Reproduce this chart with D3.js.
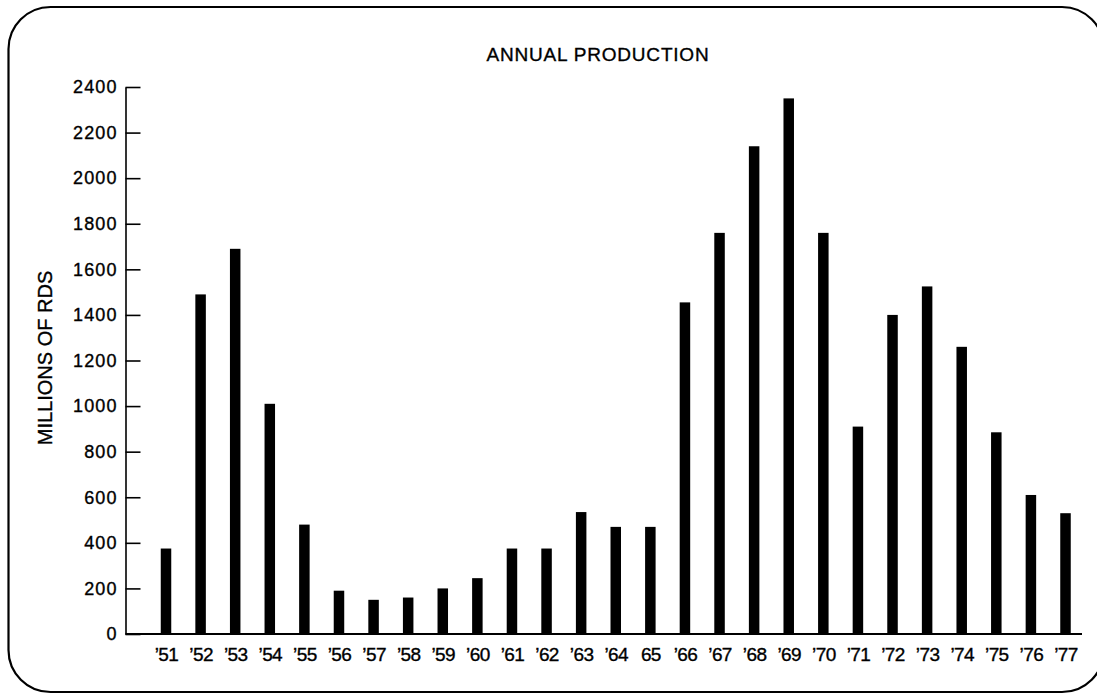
<!DOCTYPE html>
<html>
<head>
<meta charset="utf-8">
<script src="https://cdn.jsdelivr.net/npm/d3@7"></script>
<style>
  html, body { margin: 0; padding: 0; background: #fff; }
  svg { display: block; }
  text { font-family: "Liberation Sans", Arial, Helvetica, sans-serif; fill: #000; stroke: #000; stroke-width: 0.35px; }
</style>
</head>
<body>
<svg id="chart" width="1097" height="696"></svg>
<script>
// ---- data ----
const years = ["\u201951","\u201952","\u201953","\u201954","\u201955","\u201956","\u201957","\u201958","\u201959",
               "\u201960","\u201961","\u201962","\u201963","\u201964","65","\u201966","\u201967","\u201968",
               "\u201969","\u201970","\u201971","\u201972","\u201973","\u201974","\u201975","\u201976","\u201977"];
const production = [375, 1490, 1690, 1010, 480, 190, 150, 160, 200, 245, 375, 375, 535, 470, 470,
                    1455, 1760, 2140, 2350, 1760, 910, 1400, 1525, 1260, 885, 610, 530];
const yTicks = [0, 200, 400, 600, 800, 1000, 1200, 1400, 1600, 1800, 2000, 2200, 2400];
const title = "ANNUAL PRODUCTION";
const yLabel = "MILLIONS OF RDS";

// ---- layout ----
const svg = d3.select("#chart");
const axisX = 125.5, axisRight = 1082;
const x = d3.scalePoint().domain(years).range([166, 1065.5]);
const y = d3.scaleLinear().domain([0, 2400]).range([634, 87]);
const barW = 10.5;

// rounded frame
const fx0 = 8.5, fy0 = 7, fx1 = 1104, fy1 = 692, r = 42;
svg.append("path")
  .attr("d", `M${fx0 + r},${fy0} L${fx1 - r},${fy0} A${r},${r} 0 0 1 ${fx1},${fy0 + r} L${fx1},${fy1 - r} A${r},${r} 0 0 1 ${fx1 - r},${fy1} L${fx0 + r},${fy1} A${r},${r} 0 0 1 ${fx0},${fy1 - r} L${fx0},${fy0 + r} A${r},${r} 0 0 1 ${fx0 + r},${fy0} Z`)
  .attr("fill", "none").attr("stroke", "#000").attr("stroke-width", 2.2);

// title
svg.append("text")
  .attr("x", 598).attr("y", 60.5)
  .attr("text-anchor", "middle")
  .style("font-size", "19px").style("letter-spacing", "0.8px")
  .text(title);

// y label
svg.append("text")
  .attr("transform", "translate(52,358) rotate(-90)")
  .attr("text-anchor", "middle")
  .style("font-size", "20px")
  .text(yLabel);

// bars
svg.append("g").selectAll("rect")
  .data(production)
  .join("rect")
  .attr("x", (d, i) => x(years[i]) - barW / 2)
  .attr("y", d => y(d))
  .attr("width", barW)
  .attr("height", d => y(0) - y(d))
  .attr("fill", "#000");

// y axis
const yAxis = svg.append("g")
  .attr("transform", `translate(${axisX},0)`)
  .call(d3.axisLeft(y).tickValues(yTicks).tickFormat(d3.format("d")).tickSizeInner(-15).tickSizeOuter(0).tickPadding(8));
yAxis.select(".domain").attr("stroke", "#000").attr("stroke-width", 1.6);
yAxis.selectAll(".tick line").attr("stroke", "#000").attr("stroke-width", 1.6);
yAxis.selectAll(".tick text")
  .style("font-size", "18px").style("letter-spacing", "1.1px")
  .attr("fill", "#000");
yAxis.attr("font-family", null).attr("font-size", null);

// x axis (labels) and baseline
const xAxis = svg.append("g")
  .attr("transform", `translate(0,${y(0)})`)
  .call(d3.axisBottom(x).tickSize(0).tickPadding(14));
xAxis.select(".domain").remove();
xAxis.selectAll(".tick text")
  .style("font-size", "19px").style("letter-spacing", "-0.6px")
  .attr("fill", "#000");
xAxis.attr("font-family", null).attr("font-size", null);

svg.append("line")
  .attr("x1", axisX).attr("x2", axisRight)
  .attr("y1", y(0)).attr("y2", y(0))
  .attr("stroke", "#000").attr("stroke-width", 2.2);
</script>
</body>
</html>
